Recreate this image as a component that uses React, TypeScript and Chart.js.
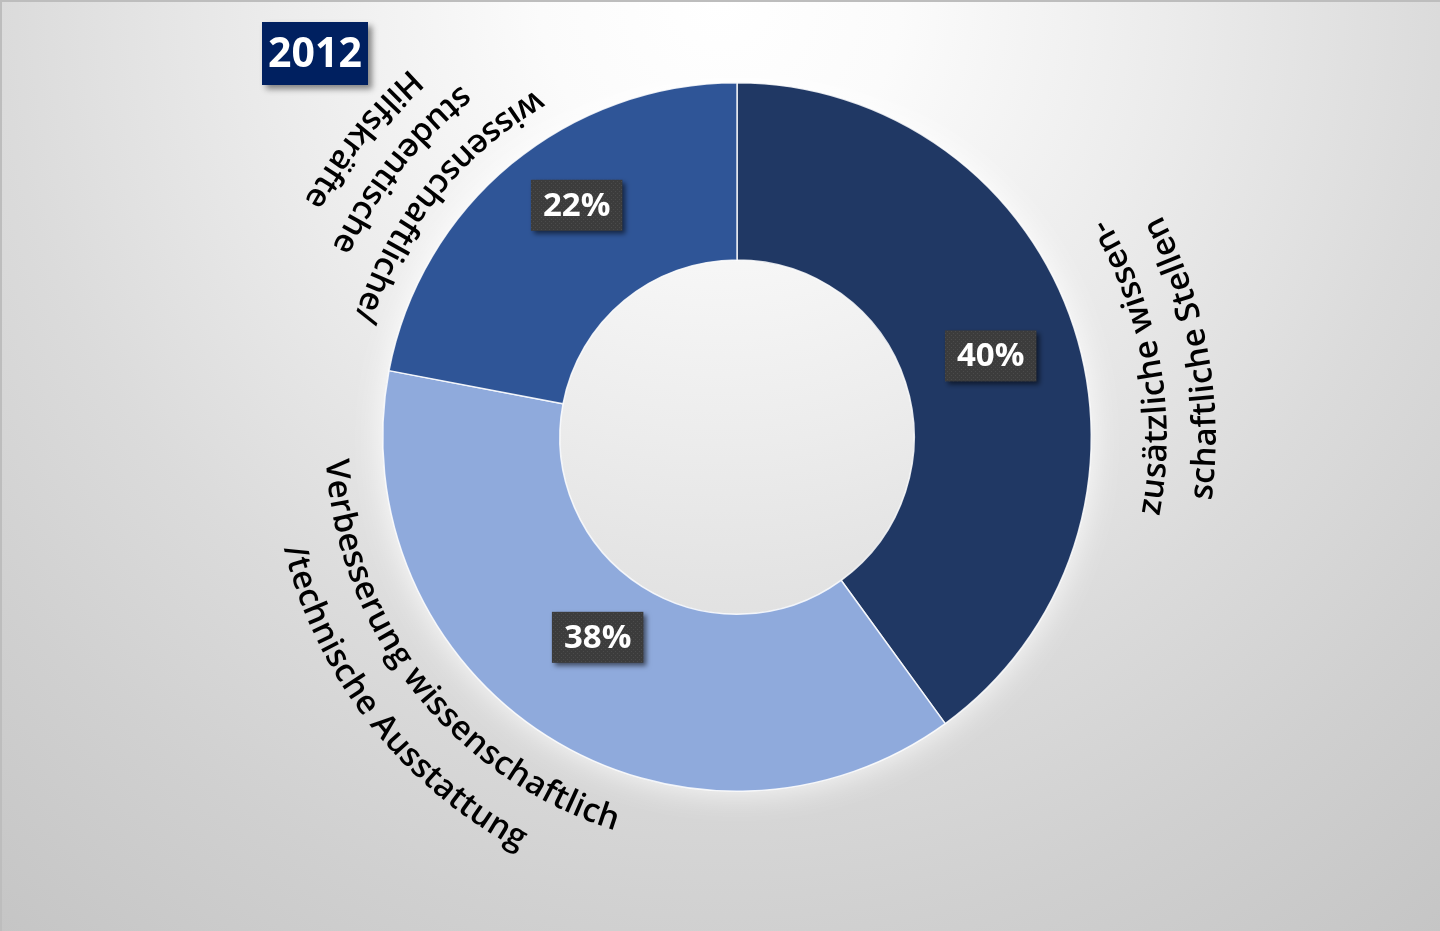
import React, { useEffect, useRef } from "react";
import { Chart, registerables } from "chart.js";

Chart.register(...registerables);

// ---------- data ----------
const yearTitle = "2012";
const categoryLines: string[][] = [
  ["zusätzliche wissen-", "schaftliche Stellen"],
  ["Verbesserung wissenschaftlich", "/technische Ausstattung"],
  ["wissenschaftliche/", "studentische", "Hilfskräfte"],
];
const shareValues = [40, 38, 22];
const shareLabels = ["40%", "38%", "22%"];

// ---------- styles / layout ----------
const sliceColors = ["#203864", "#8FAADC", "#2F5597"];
const categoryAngles = [80, 232, 308.5]; // degrees, clockwise from 12 o'clock
const categoryRadiusOffsets = [
  [66, 115],
  [48, 103],
  [37, 83, 129],
];
const percentOffsets = [
  [1, 1],
  [3, -24],
  [9, -27],
];
const W = 1440;
const H = 931;

function drawArcText(
  ctx: CanvasRenderingContext2D,
  text: string,
  cx: number,
  cy: number,
  r: number,
  centerTheta: number
) {
  const total = ctx.measureText(text).width;
  const start = centerTheta + total / 2 / r;
  for (let i = 0; i < text.length; i++) {
    const before = ctx.measureText(text.slice(0, i)).width;
    const w = ctx.measureText(text.slice(0, i + 1)).width - before;
    const theta = start - (before + w / 2) / r;
    ctx.save();
    ctx.translate(cx + r * Math.cos(theta), cy + r * Math.sin(theta));
    ctx.rotate(theta - Math.PI / 2);
    ctx.fillText(text[i], 0, 0);
    ctx.restore();
  }
}

function makeDotPattern(ctx: CanvasRenderingContext2D) {
  const c = document.createElement("canvas");
  c.width = 4;
  c.height = 4;
  const p = c.getContext("2d")!;
  p.fillStyle = "#3c3c3c";
  p.fillRect(0, 0, 4, 4);
  p.fillStyle = "#4b4b4b";
  p.fillRect(1, 1, 1, 1);
  p.fillRect(3, 3, 1, 1);
  return ctx.createPattern(c, "repeat") || "#3f3f3f";
}

const decorPlugin = {
  id: "decor",
  beforeDraw(chart: any) {
    const { ctx } = chart;
    ctx.save();
    const g = ctx.createRadialGradient(720, 0, 0, 720, 0, 1200);
    g.addColorStop(0, "#ffffff");
    g.addColorStop(0.15, "#fbfbfb");
    g.addColorStop(0.37, "#ececec");
    g.addColorStop(0.6, "#dbdbdb");
    g.addColorStop(0.78, "#d0d0d0");
    g.addColorStop(1, "#c4c4c4");
    ctx.fillStyle = g;
    ctx.fillRect(0, 0, W, H);
    ctx.fillStyle = "#bdbdbd";
    ctx.fillRect(0, 0, W, 2);
    ctx.fillRect(0, 0, 2, H);
    ctx.restore();
  },
  beforeDatasetsDraw(chart: any) {
    const { ctx } = chart;
    const arc = chart.getDatasetMeta(0).data[0];
    const { x, y, outerRadius } = arc.getProps(["x", "y", "outerRadius"], true);
    ctx.save();
    ctx.beginPath();
    ctx.rect(0, 0, W, H);
    ctx.moveTo(x + outerRadius, y);
    ctx.arc(x, y, outerRadius, 0, Math.PI * 2);
    ctx.clip("evenodd");
    ctx.shadowColor = "rgba(255,255,255,0.95)";
    ctx.shadowBlur = 34;
    ctx.beginPath();
    ctx.arc(x, y, outerRadius - 1, 0, Math.PI * 2);
    ctx.fillStyle = "#ffffff";
    ctx.fill();
    ctx.restore();
  },
  afterDatasetsDraw(chart: any) {
    const { ctx } = chart;
    const meta = chart.getDatasetMeta(0);
    const first = meta.data[0];
    const { x: cx, y: cy, outerRadius } = first.getProps(["x", "y", "outerRadius"], true);

    // curved category labels
    ctx.save();
    ctx.fillStyle = "#000000";
    ctx.font = "600 33px 'Open Sans'";
    ctx.textAlign = "center";
    ctx.textBaseline = "middle";
    categoryLines.forEach((lines, i) => {
      const theta = ((categoryAngles[i] - 90) * Math.PI) / 180;
      lines.forEach((line, j) => {
        drawArcText(ctx, line, cx, cy, outerRadius + categoryRadiusOffsets[i][j], theta);
      });
    });
    ctx.restore();

    // percentage boxes
    const pattern = makeDotPattern(ctx);
    meta.data.forEach((el: any, i: number) => {
      const pos = el.tooltipPosition(true);
      const px = pos.x + percentOffsets[i][0];
      const py = pos.y + percentOffsets[i][1];
      ctx.save();
      ctx.font = "bold 33px 'Open Sans'";
      const tw = ctx.measureText(shareLabels[i]).width;
      const bw = tw + 24;
      const bh = 51;
      ctx.shadowColor = "rgba(0,0,0,0.55)";
      ctx.shadowBlur = 5;
      ctx.shadowOffsetX = 3;
      ctx.shadowOffsetY = 3;
      ctx.fillStyle = pattern;
      ctx.fillRect(px - bw / 2, py - bh / 2, bw, bh);
      ctx.shadowColor = "transparent";
      ctx.fillStyle = "#ffffff";
      ctx.textAlign = "center";
      ctx.textBaseline = "middle";
      ctx.fillText(shareLabels[i], px, py + 1);
      ctx.restore();
    });

    // title box
    ctx.save();
    ctx.shadowColor = "rgba(0,0,0,0.45)";
    ctx.shadowBlur = 6;
    ctx.shadowOffsetX = 4;
    ctx.shadowOffsetY = 4;
    ctx.fillStyle = "#002060";
    ctx.fillRect(262, 22, 106, 63);
    ctx.shadowColor = "transparent";
    ctx.fillStyle = "#ffffff";
    ctx.font = "bold 41px 'Open Sans'";
    ctx.textAlign = "center";
    ctx.textBaseline = "middle";
    ctx.fillText(yearTitle, 315, 55);
    ctx.restore();
  },
};

export default function App() {
  const canvasRef = useRef<HTMLCanvasElement | null>(null);

  useEffect(() => {
    const canvas = canvasRef.current;
    if (!canvas) return;
    const chart = new Chart(canvas, {
      type: "doughnut",
      data: {
        labels: categoryLines.map((l) => l.join(" ")),
        datasets: [
          {
            data: shareValues,
            backgroundColor: sliceColors,
            borderColor: "rgba(255,255,255,0.85)",
            borderWidth: 1.5,
          },
        ],
      },
      options: {
        responsive: false,
        animation: false,
        cutout: "50%",
        rotation: 0,
        layout: { padding: { left: 382, right: 348, top: 82, bottom: 139 } },
        plugins: {
          legend: { display: false },
          tooltip: { enabled: false },
          title: { display: false },
        },
      },
      plugins: [decorPlugin],
    });
    return () => chart.destroy();
  }, []);

  return (
    <div style={{ position: "fixed", left: 0, top: 0, width: W, height: H }}>
      <canvas ref={canvasRef} width={W} height={H} style={{ width: W, height: H, display: "block" }} />
    </div>
  );
}
